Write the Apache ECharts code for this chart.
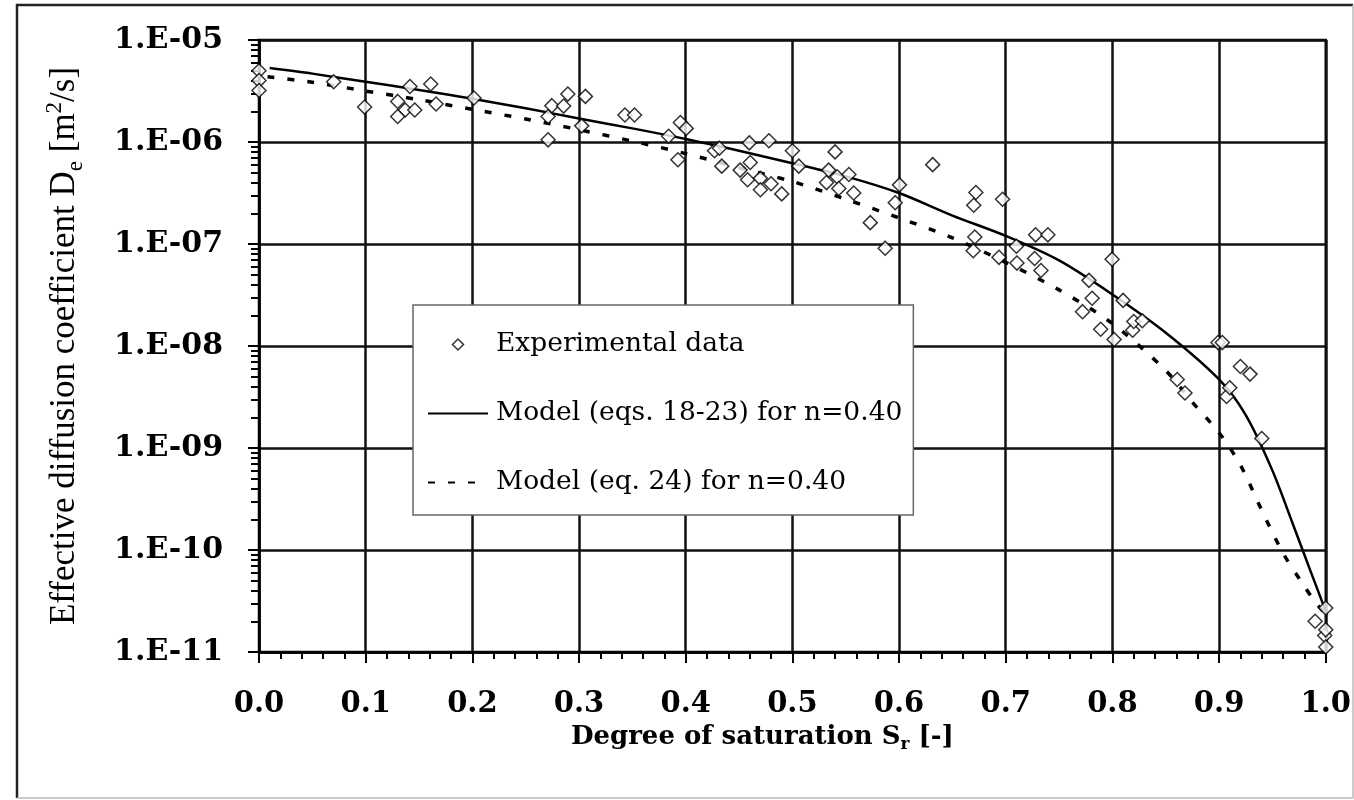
<!DOCTYPE html>
<html>
<head>
<meta charset="utf-8">
<script src="https://cdn.jsdelivr.net/npm/echarts@6/dist/echarts.min.js"></script>
<style>html,body{margin:0;padding:0;background:#fff}#c{width:1354px;height:800px}</style>
</head>
<body>
<div id="c"></div>
<script>
// Experimental data: [Sr, De]
const expX = [0.000,0.000,0.000,0.070,0.099,0.130,0.137,0.146,0.130,0.1415,0.161,0.166,0.2015,
  0.271,0.271,0.2745,0.2855,0.2895,0.3025,0.306,0.343,0.352,0.384,0.3927,0.395,0.4005,
  0.427,0.4316,0.4338,0.451,0.458,0.4596,0.4605,0.470,0.470,0.478,0.480,0.490,0.500,0.506,
  0.532,0.534,0.540,0.542,0.5435,0.553,0.5575,0.573,0.587,0.5964,0.6004,0.6315,
  0.670,0.672,0.671,0.6695,0.6937,0.697,0.710,0.7105,0.727,0.728,0.733,0.7395,
  0.772,0.778,0.781,0.789,0.7997,0.8016,0.810,0.819,0.820,0.828,
  0.8607,0.868,0.899,0.903,0.907,0.910,0.920,0.929,0.940,
  0.990,0.999,1.000,1.000,1.000];
const expY = [5.0e-6,4.0e-6,3.2e-6,3.9e-6,2.2e-6,2.5e-6,2.06e-6,2.06e-6,1.78e-6,3.5e-6,3.7e-6,2.36e-6,2.7e-6,
  1.05e-6,1.78e-6,2.27e-6,2.25e-6,2.95e-6,1.44e-6,2.8e-6,1.84e-6,1.84e-6,1.14e-6,6.7e-7,1.55e-6,1.36e-6,
  8.2e-7,8.7e-7,5.8e-7,5.3e-7,4.26e-7,9.8e-7,6.3e-7,4.4e-7,3.4e-7,1.03e-6,3.9e-7,3.1e-7,8.2e-7,5.8e-7,
  4.0e-7,5.3e-7,8.0e-7,4.57e-7,3.5e-7,4.8e-7,3.16e-7,1.62e-7,9.1e-8,2.54e-7,3.8e-7,6.0e-7,
  2.4e-7,3.2e-7,1.17e-7,8.6e-8,7.4e-8,2.75e-7,9.5e-8,6.5e-8,7.2e-8,1.23e-7,5.5e-8,1.23e-7,
  2.17e-8,4.4e-8,2.94e-8,1.46e-8,7.1e-8,1.16e-8,2.8e-8,1.43e-8,1.74e-8,1.77e-8,
  4.7e-9,3.46e-9,1.08e-8,1.08e-8,3.2e-9,3.9e-9,6.3e-9,5.3e-9,1.24e-9,
  2.0e-11,1.45e-11,2.7e-11,1.65e-11,1.12e-11];

// Model (eqs. 18-23)
const modelAX = [0.01,0.05,0.1,0.15,0.2,0.25,0.3,0.35,0.4,0.45,0.5,0.55,0.6,0.65,0.7,0.75,0.8,0.85,0.9,0.925,0.95,0.97,0.985,1.0];
const modelAY = [5.31e-6,4.68e-6,3.89e-6,3.24e-6,2.66e-6,2.14e-6,1.70e-6,1.36e-6,1.07e-6,8.2e-7,6.2e-7,4.6e-7,3.16e-7,1.9e-7,1.2e-7,6.9e-8,3.2e-8,1.35e-8,4.7e-9,2.1e-9,6.0e-10,1.7e-10,6.5e-11,2.5e-11];

// Model (eq. 24)
const modelBX = [0.008,0.05,0.1,0.15,0.2,0.25,0.3,0.35,0.4,0.45,0.5,0.55,0.6,0.65,0.7,0.75,0.8,0.85,0.875,0.9,0.92,0.94,0.96,0.977,0.99,1.0];
const modelBY = [4.37e-6,3.85e-6,3.16e-6,2.6e-6,2.09e-6,1.68e-6,1.32e-6,1.02e-6,7.7e-7,5.6e-7,4.1e-7,2.75e-7,1.8e-7,1.15e-7,6.6e-8,3.55e-8,1.66e-8,5.75e-9,2.8e-9,1.41e-9,6.8e-10,2.45e-10,9.3e-11,4.9e-11,3.1e-11,2.35e-11];

const seriesNames = ['Experimental data','Model (eqs. 18-23) for n=0.40','Model (eq. 24) for n=0.40'];
const yTickLabels = {'-11':'1.E-11','-10':'1.E-10','-9':'1.E-09','-8':'1.E-08','-7':'1.E-07','-6':'1.E-06','-5':'1.E-05'};
// minor tick positions of the log axis (2..9 in each decade)
const yDecades = [1e-11,1e-10,1e-9,1e-8,1e-7,1e-6];
const yMinorMultipliers = [2,3,4,5,6,7,8,9];

const zip = (xs, ys) => xs.map((x, i) => [x, ys[i]]);
const minorTicks = [];
yDecades.forEach(d => yMinorMultipliers.forEach(m => minorTicks.push([0, d * m])));
// same minor positions expressed in decades, for a helper tick-only axis
const minorTickDecades = minorTicks.map(p => Math.log10(p[1]));

const chart = echarts.init(document.getElementById('c'), null, {renderer: 'canvas'});
const serif = 'DejaVu Serif';
const hiddenSymbol = {color: 'rgba(0,0,0,0)', borderColor: 'rgba(0,0,0,0)', borderWidth: 0};
chart.setOption({
  animation: false,
  backgroundColor: '#fff',
  grid: {left: 259, right: 23, top: 40, bottom: 148, show: true, borderColor: '#000', borderWidth: 2.5},
  graphic: [
    {type: 'polyline', silent: true, shape: {points: [[17, 798], [17, 5], [1353, 5]]}, style: {stroke: '#222', lineWidth: 2.5, fill: null}},
    {type: 'polyline', silent: true, shape: {points: [[1353, 5], [1353, 798], [17, 798]]}, style: {stroke: '#bbb', lineWidth: 1.5, fill: null}}
  ],
  legend: {
    data: [
      {name: seriesNames[0], icon: 'path://M0,-1L1,0L0,1L-1,0Z',
        itemStyle: {color: '#fff', borderColor: '#000', borderWidth: 1.5}},
      {name: seriesNames[1], itemStyle: hiddenSymbol},
      {name: seriesNames[2], itemStyle: hiddenSymbol}
    ],
    orient: 'vertical', left: 413, top: 305,
    backgroundColor: '#fff', borderColor: '#666', borderWidth: 1.5, borderRadius: 0,
    padding: [26, 11, 19, 14],
    itemWidth: 60, itemHeight: 11, itemGap: 42,
    symbolKeepAspect: true,
    selectedMode: false,
    textStyle: {fontFamily: serif, fontSize: 26.5, color: '#000', padding: [0, 0, 0, 3]}
  },
  xAxis: {
    type: 'value', min: 0, max: 1, interval: 0.1,
    name: '{a|Degree of saturation S}{s|r}{a| [-]}',
    nameLocation: 'middle', nameGap: 59,
    nameTextStyle: {
      padding: [0, 60, 0, 0],
      rich: {
        a: {fontFamily: serif, fontWeight: 'bold', fontSize: 26, color: '#000', lineHeight: 32},
        s: {fontFamily: serif, fontWeight: 'bold', fontSize: 17, color: '#000', lineHeight: 32, verticalAlign: 'bottom'}
      }
    },
    axisLine: {show: true, lineStyle: {color: '#000', width: 2.5}},
    axisTick: {show: true, inside: false, length: 11, lineStyle: {color: '#000', width: 2}},
    minorTick: {show: true, splitNumber: 5, length: 7, lineStyle: {color: '#000', width: 2}},
    axisLabel: {margin: 38, fontFamily: serif, fontWeight: 'bold', fontSize: 29, color: '#000',
      formatter: v => v.toFixed(1)},
    splitLine: {show: true, lineStyle: {color: '#111', width: 2.5}}
  },
  yAxis: [
    {
      type: 'log', logBase: 10, min: 1e-11, max: 1e-5, splitNumber: 6,
      name: '{a|Effective diffusion coefficient D}{s|e}{a| [m}{p|2}{a|/s]}',
      nameLocation: 'middle', nameGap: 172, nameRotate: 90,
      nameTextStyle: {
        rich: {
          a: {fontFamily: 'Liberation Serif', fontSize: 35, color: '#000', lineHeight: 44},
          s: {fontFamily: 'Liberation Serif', fontSize: 23, color: '#000', lineHeight: 44, verticalAlign: 'bottom'},
          p: {fontFamily: 'Liberation Serif', fontSize: 23, color: '#000', lineHeight: 44, verticalAlign: 'top'}
        }
      },
      axisLine: {show: true, lineStyle: {color: '#000', width: 2.5}},
      axisTick: {show: true, inside: false, length: 11, lineStyle: {color: '#000', width: 2}},
      axisLabel: {margin: 36, fontFamily: serif, fontWeight: 'bold', fontSize: 30, color: '#000',
        formatter: v => yTickLabels[String(Math.round(Math.log10(v)))] || ''},
      splitLine: {show: true, lineStyle: {color: '#111', width: 2.5}}
    },
    {
      // helper axis (same span in decades) that only draws the minor ticks
      type: 'value', min: -11, max: -5, position: 'left', offset: 0,
      axisLine: {show: false},
      axisLabel: {show: false},
      splitLine: {show: false},
      axisTick: {show: true, inside: false, length: 8, customValues: minorTickDecades,
        lineStyle: {color: '#000', width: 2}}
    }
  ],
  series: [
    {
      name: seriesNames[1], type: 'line', data: zip(modelAX, modelAY),
      symbol: 'none', smooth: 0.3, z: 3,
      lineStyle: {color: '#000', width: 2.5}, itemStyle: {color: '#000'}
    },
    {
      name: seriesNames[2], type: 'line', data: zip(modelBX, modelBY),
      symbol: 'none', smooth: 0.3, z: 3,
      lineStyle: {color: '#000', width: 3.5, type: [7, 13]}, itemStyle: {color: '#000'}
    },
    {
      name: seriesNames[0], type: 'scatter', data: zip(expX, expY),
      symbol: 'diamond', symbolSize: 14, z: 4,
      itemStyle: {color: '#fff', borderColor: '#000', borderWidth: 1.5}
    }
  ]
});
</script>
</body>
</html>
